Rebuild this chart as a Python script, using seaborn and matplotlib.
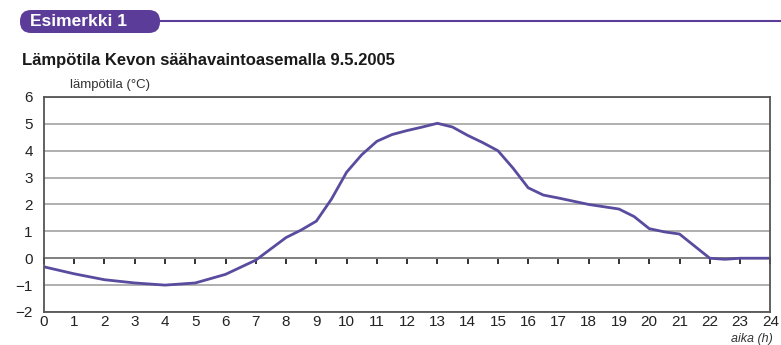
import numpy as np
import pandas as pd
import matplotlib.pyplot as plt
import seaborn as sns
from matplotlib.patches import FancyBboxPatch
from matplotlib.transforms import IdentityTransform

# lukemat kuvasta (tunti, lämpötila)
hours = [0, 1, 2, 3, 4, 5, 6, 7, 8, 8.5, 9, 9.5, 10, 10.5, 11, 11.5, 12, 12.5,
         13, 13.5, 14, 14.5, 15, 15.5, 16, 16.5, 17, 18, 19, 19.5, 20, 20.5,
         21, 21.5, 22, 22.5, 23, 24]
temps = [-0.32, -0.58, -0.8, -0.92, -1.0, -0.92, -0.6, -0.07, 0.77, 1.05, 1.38,
         2.2, 3.2, 3.85, 4.35, 4.6, 4.75, 4.88, 5.02, 4.88, 4.57, 4.3, 4.0, 3.35,
         2.62, 2.35, 2.24, 2.0, 1.83, 1.55, 1.1, 0.98, 0.9, 0.45, 0.0, -0.04,
         0.0, 0.0]
x_ticks = list(range(0, 25))
y_ticks = list(range(-2, 7))

df = pd.DataFrame({"aika": hours, "lampotila": temps})

sns.set_style("white")
plt.rcParams['font.family'] = ['Liberation Sans', 'DejaVu Sans']

fig = plt.figure(figsize=(7.81, 3.45), dpi=100)
ax = fig.add_axes([0.0563, 0.0957, 0.930, 0.6233])

line_col = "#5a4b9f"
sns.lineplot(data=df, x="aika", y="lampotila", ax=ax, color=line_col, lw=2.0)

ax.set_xlim(0, 24)
ax.set_ylim(-2, 6)
ax.set_xticks(x_ticks)
ax.set_yticks(y_ticks)
ax.set_yticklabels([str(v).replace("-", "\u2212") for v in y_ticks])
ax.set_yticks(np.arange(-1.5, 6, 1.0), minor=True)
ax.tick_params(axis="x", length=0, labelsize=11, pad=2, colors="#222222")
ax.tick_params(axis="y", which="major", length=0, labelsize=11, pad=8, colors="#222222")
ax.tick_params(axis="y", which="minor", direction="in", length=3, width=1, color="#444444")
ax.grid(axis="y", color="#9a9a9a", lw=1.1)
ax.set_xlabel("")
ax.set_ylabel("")
for s in ax.spines.values():
    s.set_visible(True)
    s.set_color("#555555")
    s.set_linewidth(1.3)

# nollaviiva tikkeineen
sec = ax.secondary_xaxis(0, transform=ax.transData)
sec.set_xticks(x_ticks)
sec.tick_params(axis="x", direction="out", length=4, width=1.3, color="#222222",
                labelbottom=False)
sec.spines["bottom"].set_color("#222222")
sec.spines["bottom"].set_linewidth(1.3)

# otsikot
fig.text(0.028, 0.825, "Lämpötila Kevon säähavaintoasemalla 9.5.2005",
         fontsize=12, fontweight="bold", color="#1a1a1a", va="center")
fig.text(0.09, 0.755, "lämpötila (°C)", fontsize=9.5, color="#333333", va="center")
fig.text(0.99, 0.0, "aika (h)", fontsize=9, style="italic", color="#333333",
         ha="right", va="bottom")

# Esimerkki-laatikko (pikseleinä)
head_col = "#5b3d99"
fig.patches.append(FancyBboxPatch((20, 312), 140, 23,
                                  boxstyle="round,pad=0,rounding_size=11",
                                  transform=IdentityTransform(), facecolor=head_col,
                                  edgecolor="none"))
fig.lines.append(plt.Line2D([0.2, 1.0], [0.939, 0.939], transform=fig.transFigure,
                            color=head_col, lw=1.5))
fig.text(0.038, 0.937, "Esimerkki 1", fontsize=12.5, fontweight="bold",
         color="white", va="center")

fig.savefig("out.png", dpi=100)
